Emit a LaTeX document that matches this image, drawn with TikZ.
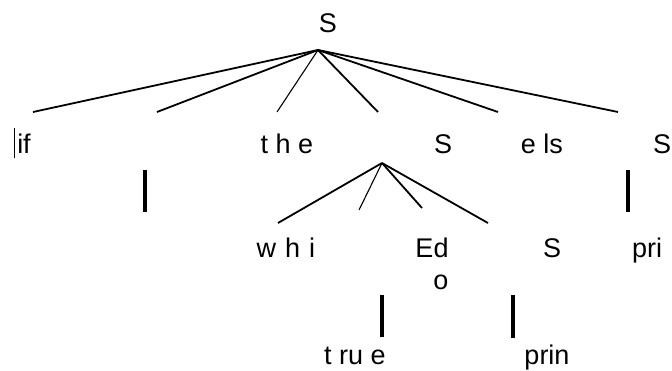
\documentclass[tikz,border=0pt]{standalone}
\usepackage{fontspec}
\setmainfont{Liberation Sans}
\begin{document}
\begin{tikzpicture}[x=1pt,y=-1pt,
  lbl/.style={anchor=base,inner sep=0pt,font=\fontsize{27}{30}\selectfont},
  edge/.style={line width=1.8pt},
  thinedge/.style={line width=1.1pt},
  bar/.style={line width=3.5pt}]
\useasboundingbox (0,0) rectangle (672,370);
% level 0
\node[lbl] (s0) at (328,32) {S};
\coordinate (r1) at (318,50);
% level 1 ends
\coordinate (e1) at (33,112);
\coordinate (e2) at (157,112);
\coordinate (e3) at (277,112);
\coordinate (e4) at (378,112);
\coordinate (e5) at (498,112);
\coordinate (e6) at (618,112);
\draw[edge] (r1) -- (e1);
\draw[edge] (r1) -- (e2);
\draw[thinedge] (r1) -- (e3);
\draw[edge] (r1) -- (e4);
\draw[edge] (r1) -- (e5);
\draw[edge] (r1) -- (e6);
% level 1 labels
\node[lbl] (nif) at (24,153) {if};
\coordinate (cu1) at (14,128);
\coordinate (cu2) at (14,158);
\draw[line width=0.8pt] (cu1) -- (cu2);
\node[lbl] (nthe) at (287,153) {t h e};
\node[lbl] (ns1) at (443,153) {S};
\node[lbl] (nels) at (542,153) {e ls};
\node[lbl] (ns2) at (662,153) {S};
% bars under level 1
\coordinate (b1a) at (145,170);
\coordinate (b1b) at (145,212);
\draw[bar] (b1a) -- (b1b);
\coordinate (b2a) at (628,170);
\coordinate (b2b) at (628,212);
\draw[bar] (b2a) -- (b2b);
% level 2
\coordinate (r2) at (382,163);
\coordinate (f1) at (278,223);
\coordinate (f2) at (359,210);
\coordinate (f3) at (422,208);
\coordinate (f4) at (488,223);
\draw[edge] (r2) -- (f1);
\draw[thinedge] (r2) -- (f2);
\draw[edge] (r2) -- (f3);
\draw[edge] (r2) -- (f4);
\node[lbl] (nwhi) at (286,257) {w\hspace{9pt}h\hspace{9pt}i};
\node[lbl] (ned) at (432,257) {Ed};
\node[lbl] (no) at (441,289) {o};
\node[lbl] (ns3) at (552,257) {S};
\node[lbl] (npri) at (647,257) {pri};
% bars level 3
\coordinate (b3a) at (382,295);
\coordinate (b3b) at (382,337);
\draw[bar] (b3a) -- (b3b);
\coordinate (b4a) at (513,295);
\coordinate (b4b) at (513,338);
\draw[bar] (b4a) -- (b4b);
\node[lbl] (ntrue) at (355,364) {t ru e};
\node[lbl] (nprin) at (547,364) {prin};
\end{tikzpicture}
\end{document}
